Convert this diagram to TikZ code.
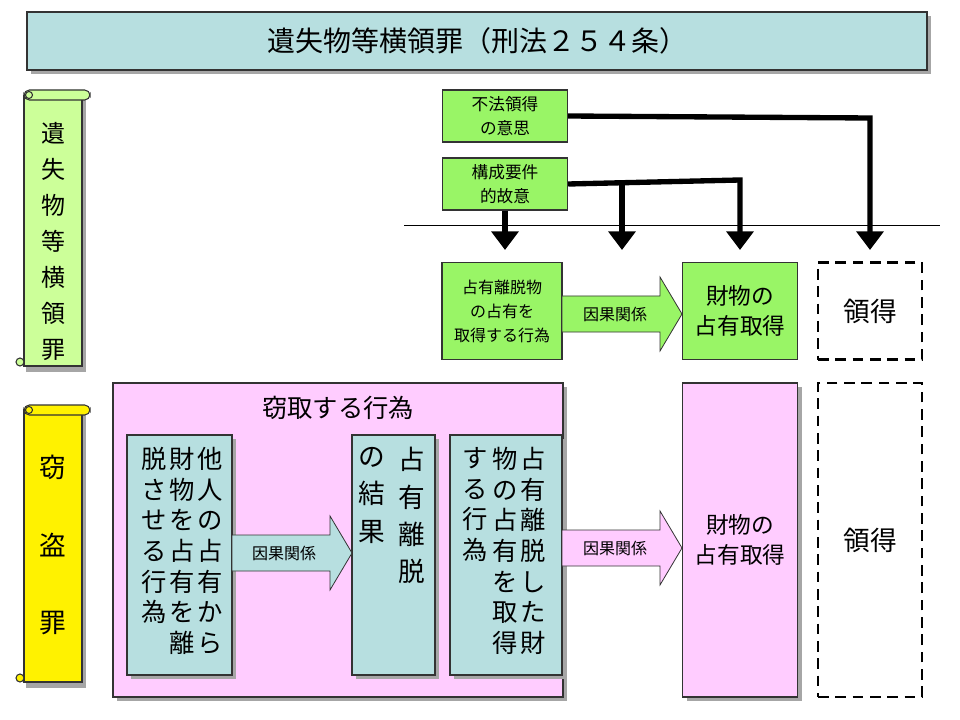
\documentclass[tikz,border=0pt]{standalone}
\usepackage{fontspec}
\setmainfont{Noto Sans CJK JP}
\usetikzlibrary{arrows.meta}
\definecolor{teal1}{HTML}{B7DFE0}
\definecolor{grn}{HTML}{99F566}
\definecolor{lgrn}{HTML}{CCFF99}
\definecolor{pnk}{HTML}{FFCCFF}
\tikzset{
 bx/.style={draw=black!80,line width=0.8pt},
 vt/.style={anchor=north,align=center,inner sep=0pt,font=\fontsize{19pt}{23pt}\selectfont},
 fat/.style={line width=4pt,-{Triangle[length=14pt,width=20pt]}},
 blab/.style={font=\fontsize{12pt}{14pt}\selectfont,inner sep=0pt},
}
% block arrow: x1, x2, yc, fill
\newcommand{\blockarrow}[4]{%
 \draw[bx,line width=0.6pt,fill=#4] (#1,#3-18) -- (#2-22,#3-18) -- (#2-22,#3-37) -- (#2,#3) -- (#2-22,#3+37) -- (#2-22,#3+18) -- (#1,#3+18) -- cycle;}
\begin{document}
\begin{tikzpicture}[x=0.75pt,y=-0.75pt]
\useasboundingbox[fill=white] (0,0) rectangle (960,720);
% title
\fill[black!35] (31,16) rectangle (931,74);
\node[bx,fill=teal1,minimum width=675pt,minimum height=43.5pt,font=\fontsize{21pt}{24pt}\selectfont] (title) at (477,41) {遺失物等横領罪（刑法２５４条）};
% scroll 1
\fill[black!35] (26,98) rectangle (86,372);
\draw[bx,fill=lgrn] (24,96) rectangle (82,366);
\draw[bx,fill=lgrn,rounded corners=4pt] (24,90) rectangle (90,100);
\draw[bx,fill=lgrn] (29,95) circle (3.5);
\draw[bx,fill=lgrn] (20,362) circle (4);
\node[vt,font=\fontsize{18pt}{27pt}\selectfont] (s1) at (53,122) {遺\\失\\物\\等\\横\\領\\罪};
% scroll 2
\fill[black!35] (26,413) rectangle (86,688);
\draw[bx,fill=yellow] (24,410) rectangle (82,682);
\draw[bx,fill=yellow,rounded corners=4pt] (24,405) rectangle (90,415);
\draw[bx,fill=yellow] (29,410) circle (3.5);
\draw[bx,fill=yellow] (20,678) circle (4);
\node[vt,font=\fontsize{20pt}{58pt}\selectfont] (s2) at (53,455) {窃\\盗\\罪};
% top green boxes
\node[bx,fill=grn,minimum width=94pt,minimum height=39pt,align=center,font=\fontsize{12.5pt}{18pt}\selectfont] (b1) at (505,116) {不法領得\\の意思};
\node[bx,fill=grn,minimum width=94pt,minimum height=39pt,align=center,font=\fontsize{12.5pt}{18pt}\selectfont] (b2) at (505,184) {構成要件\\的故意};
\draw[line width=0.6pt] (404,225) coordinate (l1) -- (940,225) coordinate (l2);
\node[bx,fill=grn,minimum width=90pt,minimum height=73pt,align=center,font=\fontsize{12pt}{18pt}\selectfont,inner sep=1pt] (c1) at (502,311) {占有離脱物\\の占有を\\取得する行為};
\node[bx,fill=grn,minimum width=86pt,minimum height=73pt,align=center,font=\fontsize{17pt}{22pt}\selectfont] (c2) at (740,311) {財物の\\占有取得};
\node[draw,line width=2pt,dash pattern=on 8pt off 5pt,minimum width=78pt,minimum height=73pt,font=\fontsize{20pt}{22pt}\selectfont] (c3) at (870,311) {領得};
% thick arrows
\coordinate (t1) at (870,250);
\coordinate (t2) at (740,250);
\coordinate (t3) at (622,250);
\coordinate (t4) at (505,250);
\draw[fat] (b1.east) -- (870,118) -- (t1);
\draw[fat] (b2.east) -- (740,180) -- (t2);
\draw[fat] (622,180) -- (t3);
\draw[fat] (b2.south) -- (t4);
\blockarrow{562}{682}{314}{grn}
\node[blab] (a1) at (615,314) {因果関係};
% pink
\fill[black!35] (117,387) rectangle (567,701);
\node[bx,fill=pnk,minimum width=337.5pt,minimum height=235.5pt] (P) at (338,540) {};
\node[font=\fontsize{19pt}{22pt}\selectfont] (pt) at (338,408) {窃取する行為};
\foreach \n/\a/\b in {d1/127/232,d2/352/435,d3/450/562}{
 \fill[black!35] (\a+4,439) rectangle (\b+4,679);
 \draw[bx,fill=teal1] (\a,435) coordinate (\n) rectangle (\b,675);
}
\node[vt] at (210,447) {他\\人\\の\\占\\有\\か\\ら};
\node[vt] at (182,447) {財\\物\\を\\占\\有\\を\\離};
\node[vt] at (154,447) {脱\\さ\\せ\\る\\行\\為};
\node[vt,font=\fontsize{20pt}{28pt}\selectfont] at (412,447) {占\\有\\離\\脱};
\node[vt,font=\fontsize{20pt}{28pt}\selectfont] at (372,447) {の\\結\\果};
\node[vt] at (533,447) {占\\有\\離\\脱\\し\\た\\財};
\node[vt] at (505,447) {物\\の\\占\\有\\を\\取\\得};
\node[vt] at (475,447) {す\\る\\行\\為};
\blockarrow{232}{352}{553}{teal1}
\node[blab] (a2) at (284,553) {因果関係};
\blockarrow{562}{682}{548}{pnk}
\node[blab] (a3) at (615,548) {因果関係};
\fill[black!35] (687,387) rectangle (802,701);
\node[bx,fill=pnk,minimum width=86pt,minimum height=235.5pt,align=center,font=\fontsize{17pt}{22pt}\selectfont] (e1) at (740,540) {財物の\\占有取得};
\node[draw,line width=2pt,dash pattern=on 8pt off 5pt,minimum width=78pt,minimum height=235.5pt,font=\fontsize{20pt}{22pt}\selectfont] (e2) at (870,540) {領得};
\end{tikzpicture}
\end{document}
